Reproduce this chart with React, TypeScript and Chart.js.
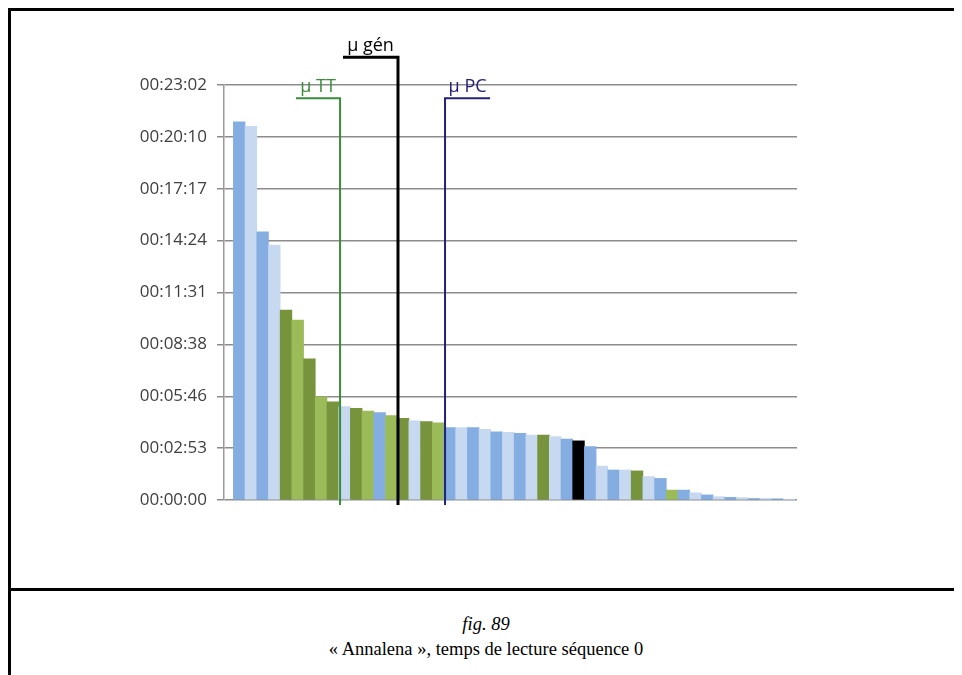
import React, { useEffect, useRef } from "react";
import { Chart, registerables } from "chart.js";

Chart.register(...registerables);

// ---- data ----
const RANKS = [
  1, 2, 3, 4, 5, 6, 7, 8, 9, 10, 11, 12, 13, 14, 15, 16, 17, 18, 19, 20, 21, 22, 23, 24,
  25, 26, 27, 28, 29, 30, 31, 32, 33, 34, 35, 36, 37, 38, 39, 40, 41, 42, 43, 44, 45, 46, 47, 48,
];

// reading time in seconds
const READING_SECONDS = [
  1260, 1245, 893, 849, 633, 599, 470, 344, 327, 311, 305, 296, 291, 281, 272, 264, 261, 257,
  241, 241, 241, 235, 227, 225, 222, 216, 216, 211, 203, 197, 178, 113, 100, 100, 97, 78, 72,
  33, 33, 24, 17, 11, 9, 8, 5, 5, 4, 2,
];

// reader group for each bar
const GROUPS = [
  "PC", "PC", "PC", "PC", "TT", "TT", "TT", "TT", "TT", "PC", "TT", "TT", "PC", "TT", "TT", "PC",
  "TT", "TT", "PC", "PC", "PC", "PC", "PC", "PC", "PC", "PC", "TT", "PC", "PC", "X", "PC", "PC",
  "PC", "PC", "TT", "PC", "PC", "TT", "PC", "PC", "PC", "PC", "PC", "PC", "PC", "PC", "PC", "PC",
];

const Y_TICK_VALUES = [0, 172.8, 345.6, 518.4, 691.2, 864, 1036.8, 1209.6, 1382.4];
const Y_TICK_LABELS = [
  "00:00:00", "00:02:53", "00:05:46", "00:08:38", "00:11:31",
  "00:14:24", "00:17:17", "00:20:10", "00:23:02",
];

const MEAN_LABELS = ["μ TT", "μ gén", "μ PC"];
const MEAN_RANKS = [9.62, 14.57, 18.59];
const MEAN_ARM_ENDS = [5.85, 9.87, 22.44];
const MEAN_BRACKET_TOPS = [1338, 1475, 1338];
const MEAN_LINE_BOTTOM = -17;

const CAPTION_FIG = "fig. 89";
const CAPTION_TEXT = "« Annalena », temps de lecture séquence 0";

// ---- styles ----
const PALETTE: Record<string, [string, string]> = {
  PC: ["#84ADE2", "#C6D9F1"],
  TT: ["#77933C", "#9BBB59"],
  X: ["#000000", "#000000"],
};
const MEAN_COLORS = ["#3A8C3A", "#000000", "#22227A"];
const MEAN_WIDTHS = [2, 3, 2];

const CANVAS_W = 958;
const CANVAS_H = 577;

const meanBrackets = {
  id: "meanBrackets",
  afterDatasetsDraw(chart: any) {
    const { ctx, scales } = chart;
    const x = scales.x;
    const y = scales.y;
    ctx.save();
    MEAN_LABELS.forEach((label, i) => {
      const xv = x.getPixelForValue(MEAN_RANKS[i]);
      const xa = x.getPixelForValue(MEAN_ARM_ENDS[i]);
      const yt = y.getPixelForValue(MEAN_BRACKET_TOPS[i]);
      const yb = y.getPixelForValue(MEAN_LINE_BOTTOM);
      ctx.strokeStyle = MEAN_COLORS[i];
      ctx.lineWidth = MEAN_WIDTHS[i];
      ctx.lineJoin = "miter";
      ctx.beginPath();
      ctx.moveTo(xa, yt);
      ctx.lineTo(xv, yt);
      ctx.lineTo(xv, yb);
      ctx.stroke();
      ctx.fillStyle = MEAN_COLORS[i];
      ctx.font = '18px "Open Sans"';
      ctx.textAlign = "center";
      ctx.textBaseline = "alphabetic";
      ctx.fillText(label, (xa + xv) / 2, yt - 6);
    });
    ctx.restore();
  },
};

export default function App() {
  const canvasRef = useRef<HTMLCanvasElement | null>(null);

  useEffect(() => {
    document.body.style.overflow = "hidden";
    const canvas = canvasRef.current;
    if (!canvas) return;
    const chart = new Chart(canvas, {
      type: "bar",
      data: {
        datasets: [
          {
            data: RANKS.map((r, i) => ({ x: r, y: READING_SECONDS[i] })),
            backgroundColor: GROUPS.map((g, i) => PALETTE[g][RANKS[i] % 2 === 1 ? 0 : 1]),
            borderWidth: 0,
            barPercentage: 1,
            categoryPercentage: 1,
          },
        ],
      },
      options: {
        animation: false,
        responsive: false,
        devicePixelRatio: 1,
        layout: { padding: { left: 0, top: 74, right: 172, bottom: 88 } },
        plugins: { legend: { display: false }, tooltip: { enabled: false } },
        scales: {
          x: { type: "linear", min: -0.3, max: 48.67, display: false, offset: false },
          y: {
            min: 0,
            max: 1382.4,
            afterBuildTicks: (s: any) => {
              s.ticks = Y_TICK_VALUES.map((v) => ({ value: v }));
            },
            afterFit: (s: any) => {
              s.width = 213;
            },
            ticks: {
              callback: (_v: any, i: number) => Y_TICK_LABELS[i],
              font: { family: "Open Sans", size: 17 },
              color: "#404040",
              padding: 10,
            },
            grid: { color: "#8c8c8c", lineWidth: 1.5, tickLength: 7 },
            border: { color: "#9a9a9a", width: 1.5 },
          },
        },
      },
      plugins: [meanBrackets],
    } as any);
    return () => chart.destroy();
  }, []);

  return (
    <div
      style={{
        width: CANVAS_W,
        border: "3px solid #000",
        borderBottom: "none",
        fontFamily: '"Liberation Serif", "Times New Roman", serif',
        color: "#000",
      }}
    >
      <div style={{ height: CANVAS_H, borderBottom: "3px solid #000" }}>
        <canvas
          ref={canvasRef}
          width={CANVAS_W}
          height={CANVAS_H}
          style={{ display: "block", width: CANVAS_W, height: CANVAS_H }}
        />
      </div>
      <div style={{ height: 120, textAlign: "center", paddingTop: 21, paddingRight: 8 }}>
        <div style={{ fontStyle: "italic", fontSize: 18.5, lineHeight: "25px" }}>{CAPTION_FIG}</div>
        <div style={{ fontSize: 18.5, lineHeight: "25px" }}>{CAPTION_TEXT}</div>
      </div>
    </div>
  );
}
